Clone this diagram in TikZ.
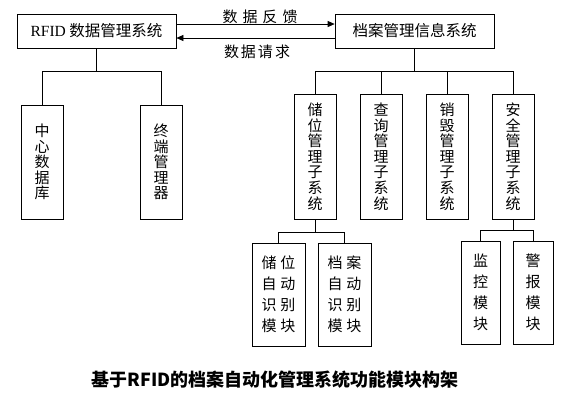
\documentclass[tikz,border=0pt]{standalone}
\usepackage{fontspec}
\setmainfont{Liberation Serif}
\newfontfamily\cjk{Noto Sans CJK SC}
\usepackage{tikz}
\usetikzlibrary{arrows.meta, positioning}

\begin{document}
\begin{tikzpicture}[
  x=1pt, y=-1pt,
  >={Triangle[length=7pt, width=6pt]},
  sysbox/.style={rectangle, draw=black, line width=0.7pt, minimum width=159pt, minimum height=34pt, inner sep=0pt, font=\cjk\fontsize{15.5}{17}\selectfont},
  subbox/.style={rectangle, draw=black, line width=0.7pt, minimum width=42pt, inner sep=0pt, align=center, font=\cjk\fontsize{15}{15.6}\selectfont},
  modbox/.style={rectangle, draw=black, line width=0.7pt, minimum height=103pt, inner sep=0pt, align=center, font=\cjk\fontsize{15}{21}\selectfont},
  link/.style={line width=0.7pt},
  flow/.style={->, line width=0.7pt}
]
  \useasboundingbox (0,0) rectangle (561,402);

  % Top level systems
  \node[sysbox] (rfid) at (96.5, 31) {{\rmfamily RFID} 数据管理系统};
  \node[sysbox] (arch) at (414.5, 31) {档案管理信息系统};

  % Data exchange
  \draw[flow] ([yshift=7pt]rfid.east) -- ([yshift=7pt]arch.west);
  \draw[flow] ([yshift=-7pt]arch.west) -- ([yshift=-7pt]rfid.east);
  \node[font=\cjk\fontsize{15}{16}\selectfont] (feed) at (260, 17) {数\hspace{5pt}据\hspace{5pt}反\hspace{5pt}馈};
  \node[font=\cjk\fontsize{15}{16}\selectfont] (req) at (257, 52) {数\hspace{2pt}据\hspace{2pt}请\hspace{2pt}求};

  % RFID side
  \node[subbox, minimum height=114pt] (cdb) at (42, 162) {中\\心\\数\\据\\库};
  \node[subbox, minimum height=114pt] (term) at (161, 162) {终\\端\\管\\理\\器};

  % Archive side
  \node[subbox, minimum height=125pt] (store) at (315, 156.5) {储\\位\\管\\理\\子\\系\\统};
  \node[subbox, minimum height=125pt] (query) at (381, 156.5) {查\\询\\管\\理\\子\\系\\统};
  \node[subbox, minimum height=125pt] (dest) at (447, 156.5) {销\\毁\\管\\理\\子\\系\\统};
  \node[subbox, minimum height=125pt] (safe) at (513, 156.5) {安\\全\\管\\理\\子\\系\\统};

  % Modules
  \node[modbox, minimum width=53pt] (sid) at (278.5, 294.5) {储\hspace{4pt}位\\自\hspace{4pt}动\\识\hspace{4pt}别\\模\hspace{4pt}块};
  \node[modbox, minimum width=53pt] (aid) at (344.5, 294.5) {档\hspace{4pt}案\\自\hspace{4pt}动\\识\hspace{4pt}别\\模\hspace{4pt}块};
  \node[modbox, minimum width=39pt] (mon) at (480.5, 292.5) {监\\控\\模\\块};
  \node[modbox, minimum width=40pt] (alarm) at (533, 292.5) {警\\报\\模\\块};

  % Tree lines
  \draw[link] (rfid.south) -- ++(0,23) coordinate (lbus);
  \draw[link] (cdb.north) |- (lbus) -| (term.north);
  \draw[link] (arch.south) -- ++(0,23) coordinate (rbus);
  \draw[link] (store.north) |- (rbus) -| (safe.north);
  \draw[link] (query.north) -- (query.north |- rbus);
  \draw[link] (dest.north) -- (dest.north |- rbus);
  \draw[link] (store.south) -- ++(0,13) coordinate (sbus);
  \draw[link] (sid.north) |- (sbus) -| (aid.north);
  \draw[link] (safe.south) -- ++(0,11) coordinate (abus);
  \draw[link] (mon.north) |- (abus) -| (alarm.north);

  % Caption
  \node[font=\cjk\bfseries\fontsize{18}{20}\selectfont] (cap) at (275, 380) {基于RFID的档案自动化管理系统功能模块构架};
\end{tikzpicture}
\end{document}
